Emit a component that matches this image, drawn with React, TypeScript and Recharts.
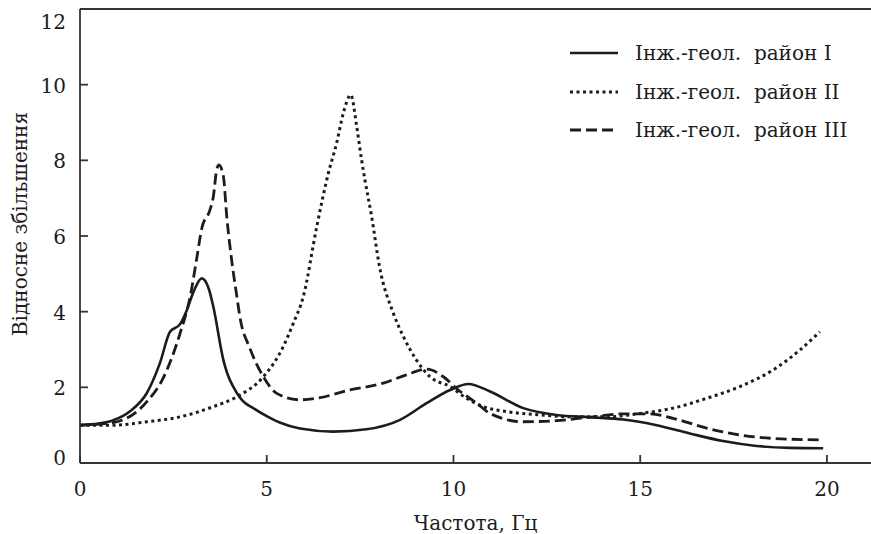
import React from 'react';
import { LineChart, Line, XAxis, YAxis, ReferenceLine, Label } from 'recharts';

const seriesNames = ['Інж.-геол.  район І', 'Інж.-геол.  район ІІ', 'Інж.-геол.  район ІІІ'];

const freqI = [0, 0.5, 0.89, 1.34, 1.79, 2.14, 2.41, 2.68, 2.86, 3.05, 3.26, 3.45, 3.57, 3.84, 4.2, 4.35, 4.64, 5.0, 5.35, 5.89, 6.78, 7.67, 8.57, 9.28, 9.91, 10.4, 10.98, 11.87, 12.76, 13.65, 14.55, 15.44, 16.33, 17.22, 18.12, 19.01, 19.9];
const valI = [1.0, 1.04, 1.13, 1.37, 1.85, 2.64, 3.47, 3.67, 4.04, 4.55, 4.88, 4.6, 4.13, 2.72, 1.85, 1.65, 1.45, 1.24, 1.07, 0.91, 0.83, 0.89, 1.14, 1.58, 1.93, 2.09, 1.89, 1.45, 1.27, 1.21, 1.15, 1.0, 0.78, 0.58, 0.45, 0.4, 0.39];

const freqII = [0, 0.89, 1.79, 2.68, 3.57, 4.2, 4.91, 5.44, 5.71, 5.98, 6.34, 6.65, 6.87, 7.05, 7.25, 7.41, 7.54, 7.63, 7.81, 8.02, 8.39, 8.66, 9.01, 9.37, 9.91, 10.35, 10.8, 11.42, 12.32, 13.21, 14.1, 15.0, 15.88, 16.78, 17.67, 18.56, 19.28, 19.81];
const valII = [1.0, 1.0, 1.09, 1.22, 1.49, 1.75, 2.28, 3.07, 3.69, 4.4, 6.25, 7.66, 8.45, 9.24, 9.73, 8.89, 8.01, 7.48, 6.51, 5.19, 3.96, 3.34, 2.72, 2.28, 2.02, 1.71, 1.49, 1.36, 1.27, 1.22, 1.22, 1.31, 1.45, 1.71, 2.02, 2.46, 2.99, 3.47];

const freqIII = [0, 0.89, 1.79, 2.23, 2.68, 2.95, 3.12, 3.26, 3.48, 3.57, 3.66, 3.72, 3.84, 3.93, 4.06, 4.2, 4.28, 4.55, 4.91, 5.27, 5.89, 6.33, 7.23, 8.12, 8.74, 9.28, 9.73, 10.08, 10.62, 10.98, 11.87, 12.76, 13.65, 14.55, 15.26, 15.88, 16.78, 17.67, 18.56, 19.9];
const valIII = [1.0, 1.07, 1.62, 2.25, 3.43, 4.4, 5.37, 6.2, 6.69, 7.04, 7.75, 7.88, 7.57, 6.51, 5.37, 4.4, 3.87, 3.03, 2.28, 1.84, 1.67, 1.71, 1.93, 2.11, 2.33, 2.48, 2.28, 1.97, 1.58, 1.31, 1.09, 1.12, 1.21, 1.3, 1.3, 1.18, 0.92, 0.74, 0.65, 0.61];

const xTicks = [0, 5, 10, 15, 20];
const yTicks = [0, 2, 4, 6, 8, 10, 12];

const toRows = (fs: number[], vs: number[]) => fs.map((f, i) => ({ f, v: vs[i] }));
const dataI = toRows(freqI, valI);
const dataII = toRows(freqII, valII);
const dataIII = toRows(freqIII, valIII);

const FONT = '"DejaVu Serif", serif';
const INK = '#1c1c1c';
const dashes = [undefined, '3 3.5', '11 5'];
const widths = [2.6, 3, 2.8];

const YTick = (props: any) => {
  const { x, y, payload } = props;
  const v = payload.value;
  const shift = v === 12 ? 13 : v === 0 ? -5 : 1;
  return (
    <text x={x} y={y + shift} textAnchor="end" dominantBaseline="central" fill={INK} fontSize={20} fontFamily={FONT}>
      {v}
    </text>
  );
};

const LegendBox = () => (
  <div style={{ position: 'absolute', left: 570, top: 34, fontFamily: FONT, fontSize: 20, color: INK }}>
    {seriesNames.map((n, i) => (
      <div key={n} style={{ display: 'flex', alignItems: 'center', height: 38.5 }}>
        <svg width={48} height={10} style={{ marginRight: 17 }}>
          <line x1={0} y1={5} x2={48} y2={5} stroke={INK} strokeWidth={widths[i]} strokeDasharray={dashes[i]} />
        </svg>
        <span style={{ whiteSpace: 'pre' }}>{n}</span>
      </div>
    ))}
  </div>
);

export default function App() {
  return (
    <div style={{ position: 'absolute', left: 0, top: 0, width: 871, height: 534, background: '#fff' }}>
      <LineChart width={871} height={534} margin={{ top: 9, right: 0, left: 0, bottom: 0 }}>
        <XAxis
          type="number"
          dataKey="f"
          domain={[0, 21.18]}
          ticks={xTicks}
          allowDataOverflow
          height={71}
          stroke="#333"
          strokeWidth={1.8}
          tickSize={-8}
          tickMargin={27}
          tick={{ fill: INK, fontSize: 20, fontFamily: FONT }}
        >
          <Label value="Частота, Гц" position="insideBottom" offset={4} style={{ fill: INK, fontSize: 20, fontFamily: FONT }} />
        </XAxis>
        <YAxis
          type="number"
          dataKey="v"
          domain={[0, 12]}
          ticks={yTicks}
          allowDataOverflow
          width={80}
          stroke="#333"
          strokeWidth={1.8}
          tickSize={-8}
          tickMargin={22}
          tick={<YTick />}
        >
          <Label value="Відносне збільшення" angle={-90} position="insideLeft" offset={20} dy={-12} style={{ fill: INK, fontSize: 20, fontFamily: FONT, textAnchor: 'middle' }} />
        </YAxis>
        <ReferenceLine y={12} stroke="#333" strokeWidth={1.8} />
        <Line data={dataI} dataKey="v" name={seriesNames[0]} type="monotone" stroke={INK} strokeWidth={widths[0]} dot={false} isAnimationActive={false} />
        <Line data={dataII} dataKey="v" name={seriesNames[1]} type="monotone" stroke={INK} strokeWidth={widths[1]} strokeDasharray={dashes[1]} dot={false} isAnimationActive={false} />
        <Line data={dataIII} dataKey="v" name={seriesNames[2]} type="monotone" stroke={INK} strokeWidth={widths[2]} strokeDasharray={dashes[2]} dot={false} isAnimationActive={false} />
      </LineChart>
      <LegendBox />
    </div>
  );
}
